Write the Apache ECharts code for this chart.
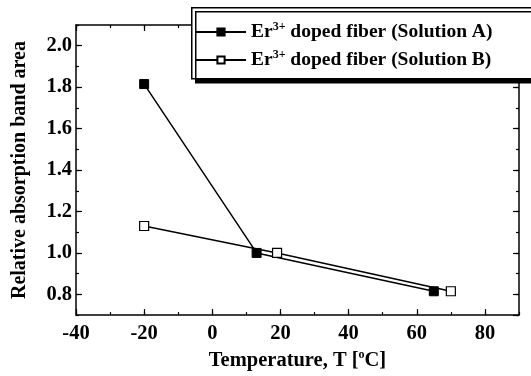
<!DOCTYPE html>
<html>
<head>
<meta charset="utf-8">
<script src="https://cdn.jsdelivr.net/npm/echarts@6/dist/echarts.min.js"></script>
<style>html,body{margin:0;padding:0;background:#fff}#c{width:531px;height:376px}</style>
</head>
<body>
<div id="c"></div>
<script>
var seriesNames = ['Solution A', 'Solution B'];
var tempA = [-20, 13, 65];
var valA = [1.815, 1.0, 0.815];
var tempB = [-20, 19, 70];
var valB = [1.13, 1.0, 0.815];

var F = '"Liberation Serif", "DejaVu Serif", serif';
var chart = echarts.init(document.getElementById('c'));

function pairs(xs, ys) { return xs.map(function (x, i) { return [x, ys[i]]; }); }

function xAx(pos, interval, len, labels, line) {
  return {
    type: 'value', position: pos, min: -40, max: 90, interval: interval,
    axisLine: { show: line, onZero: false, lineStyle: { color: '#000', width: 1.5 } },
    axisTick: { show: true, inside: true, length: len, lineStyle: { color: '#000', width: 1.2 } },
    axisLabel: { show: labels, showMaxLabel: false, color: '#000', fontFamily: F, fontWeight: 'bold', fontSize: 20.5, margin: 8 },
    splitLine: { show: false },
    name: labels ? 'Temperature, T [{s|o}C]' : '',
    nameLocation: 'middle', nameGap: 27,
    nameTextStyle: { color: '#000', fontFamily: F, fontWeight: 'bold', fontSize: 20.5,
      rich: { s: { fontSize: 12, fontFamily: F, fontWeight: 'bold', color: '#000', verticalAlign: 'top', lineHeight: 23 } } }
  };
}
function yAx(pos, opts, len, labels, line) {
  var a = {
    type: 'value', position: pos, min: 0.7, max: 2.1,
    axisLine: { show: line, onZero: false, lineStyle: { color: '#000', width: 1.5 } },
    axisTick: { show: true, inside: true, length: len, lineStyle: { color: '#000', width: 1.2 } },
    axisLabel: { show: labels, showMinLabel: false, showMaxLabel: false, color: '#000', fontFamily: F, fontWeight: 'bold', fontSize: 20.5, margin: 4,
      formatter: function (v) { return v.toFixed(1); } },
    splitLine: { show: false },
    name: labels ? 'Relative absorption band area' : '',
    nameLocation: 'middle', nameGap: 46,
    nameTextStyle: { color: '#000', fontFamily: F, fontWeight: 'bold', fontSize: 20 }
  };
  for (var k in opts) a[k] = opts[k];
  return a;
}

var legendText = { color: '#000', fontFamily: F, fontWeight: 'bold', fontSize: 19.5,
  rich: {
    t: { fontFamily: F, fontWeight: 'bold', fontSize: 19.5, color: '#000', lineHeight: 22 },
    s: { fontFamily: F, fontWeight: 'bold', fontSize: 12, color: '#000', verticalAlign: 'top', lineHeight: 22 }
  } };

chart.setOption({
  animation: false,
  backgroundColor: '#fff',
  grid: { left: 76, right: 12, top: 25, bottom: 55 },
  xAxis: [
    xAx('bottom', 20, 6, true, true),
    xAx('bottom', 10, 3, false, false),
    xAx('top', 20, 6, false, true),
    xAx('top', 10, 3, false, false)
  ],
  yAxis: [
    yAx('left', { splitNumber: 7 }, 6, true, true),
    yAx('left', { interval: 0.1 }, 3, false, false),
    yAx('right', { splitNumber: 7 }, 6, false, true),
    yAx('right', { interval: 0.1 }, 3, false, false)
  ],
  graphic: [{
    type: 'rect', z: 50, left: 191, top: 7,
    shape: { width: 360, height: 71 },
    style: { fill: '#fff', stroke: '#000', lineWidth: 1.5, shadowColor: '#000', shadowBlur: 0, shadowOffsetX: 4, shadowOffsetY: 4 }
  }],
  legend: {
    z: 60, left: 195, top: 21, orient: 'vertical', itemGap: 7,
    itemWidth: 50, itemHeight: 9, padding: 0,
    textStyle: legendText,
    formatter: function (n) { return '{t|Er}{s|3+}{t| doped fiber (' + n + ')}'; },
    data: seriesNames
  },
  series: [
    { name: seriesNames[0], type: 'line', data: pairs(tempA, valA), symbol: 'rect', symbolSize: 9,
      lineStyle: { color: '#000', width: 1.5 }, itemStyle: { color: '#000', borderColor: '#000', borderWidth: 1 } },
    { name: seriesNames[1], type: 'line', data: pairs(tempB, valB), symbol: 'rect', symbolSize: 9,
      lineStyle: { color: '#000', width: 1.5 }, itemStyle: { color: '#fff', borderColor: '#000', borderWidth: 1.2 } }
  ]
});
</script>
</body>
</html>
